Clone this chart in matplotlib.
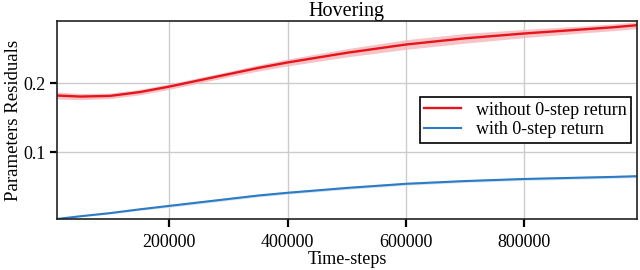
import numpy as np
import matplotlib.pyplot as plt

plt.rcParams['font.family'] = ['Liberation Serif', 'DejaVu Serif']

# Messpunkte
steps = np.array([10000, 50000, 100000, 150000, 200000, 250000, 300000, 350000,
                  400000, 450000, 500000, 550000, 600000, 650000, 700000, 750000,
                  800000, 850000, 900000, 950000, 990000])
red_mean = np.array([0.182, 0.1805, 0.1815, 0.187, 0.195, 0.204, 0.213, 0.222,
                     0.230, 0.237, 0.244, 0.250, 0.256, 0.2605, 0.265, 0.2685,
                     0.272, 0.275, 0.278, 0.281, 0.284])
red_std = np.array([0.005, 0.0045, 0.004, 0.004, 0.004, 0.004, 0.004, 0.0045,
                    0.005, 0.0055, 0.006, 0.0065, 0.007, 0.007, 0.007, 0.0065,
                    0.006, 0.0055, 0.005, 0.005, 0.005])
blue_mean = np.array([0.003, 0.007, 0.0115, 0.017, 0.022, 0.027, 0.032, 0.037,
                      0.041, 0.0445, 0.048, 0.051, 0.054, 0.056, 0.058, 0.0595,
                      0.061, 0.062, 0.063, 0.064, 0.065])
blue_std = np.array([0.001, 0.001, 0.001, 0.0015, 0.002, 0.002, 0.002, 0.002,
                     0.002, 0.002, 0.002, 0.002, 0.002, 0.002, 0.002, 0.002,
                     0.002, 0.002, 0.002, 0.002, 0.002])

fig = plt.figure(figsize=(6.4, 2.7), dpi=100)
ax = fig.add_axes([0.089, 0.189, 0.906, 0.733])

ax.fill_between(steps, red_mean - red_std, red_mean + red_std, color='#f4b6b8', lw=0, alpha=0.8)
ax.plot(steps, red_mean, color='#e8141c', lw=1.7, label='without 0-step return')
ax.fill_between(steps, blue_mean - blue_std, blue_mean + blue_std, color='#c6dbef', lw=0, alpha=0.8)
ax.plot(steps, blue_mean, color='#2c7bc4', lw=1.5, label='with 0-step return')

ax.set_xlim(10000, 990000)
ax.set_ylim(0.003, 0.29)
ax.set_xticks([200000, 400000, 600000, 800000])
ax.set_xticklabels(['200000', '400000', '600000', '800000'])
ax.set_yticks([0.1, 0.2])
ax.set_yticklabels(['0.1', '0.2'])
ax.grid(True, color='#cccccc', lw=1)
ax.set_axisbelow(True)
ax.tick_params(direction='out', length=5, width=1.6, labelsize=13, colors='black', pad=3)
ax.tick_params(axis='x', length=6, pad=5)
for s in ax.spines.values():
    s.set_linewidth(1.2)
    s.set_color('#222222')

ax.set_title('Hovering', fontsize=14.5, pad=1)
ax.set_xlabel('Time-steps', fontsize=13, labelpad=0)
ax.set_ylabel('Parameters Residuals', fontsize=13.5, labelpad=1)

leg = ax.legend(loc='center right', bbox_to_anchor=(0.996, 0.5), fontsize=13,
                fancybox=False, framealpha=1, edgecolor='black', handlelength=2.05,
                handletextpad=0.8, borderpad=0.25, labelspacing=0.15, borderaxespad=0.2)
leg.get_frame().set_linewidth(1.2)

fig.savefig('out.png', dpi=100)
